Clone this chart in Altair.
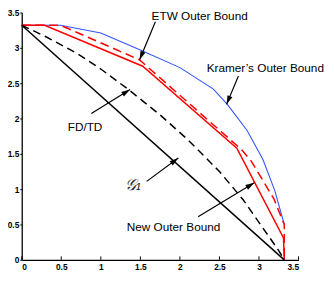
import altair as alt
import pandas as pd
import math

# ---- data ----
g1_x = [0, 3.32]
g1_y = [3.32, 0]
fdtd_x = [0, 0.3, 0.7, 1.0, 1.35, 1.75, 2.1, 2.5, 2.8, 3.05, 3.25, 3.32]
fdtd_y = [3.32, 3.16, 2.92, 2.70, 2.41, 2.05, 1.70, 1.25, 0.85, 0.45, 0.13, 0]
new_x = [0, 0.29, 1.53, 2.72, 3.31, 3.32]
new_y = [3.32, 3.32, 2.74, 1.58, 0.31, 0]
etw_x = [0, 0.49, 1.49, 2.78, 2.9, 3.19, 3.32, 3.32]
etw_y = [3.32, 3.32, 2.83, 1.56, 1.40, 0.86, 0.5, 0]
kramer_x = [0, 0.49, 1.0, 1.5, 2.0, 2.42, 2.6, 2.85, 3.05, 3.2, 3.32]
kramer_y = [3.32, 3.32, 3.21, 2.97, 2.72, 2.42, 2.2, 1.83, 1.42, 0.98, 0.5]

x_ticks = [0, 0.5, 1, 1.5, 2, 2.5, 3, 3.5]
y_ticks = [0, 0.5, 1, 1.5, 2, 2.5, 3, 3.5]

label_text = ["ETW Outer Bound", "Kramer\u2019s Outer Bound", "FD/TD", "New Outer Bound"]
label_x = [2.25, 3.08, 0.80, 1.92]
label_y = [3.45, 2.71, 1.88, 0.47]
g1_label = "\U0001D4A2\u2081"
g1_label_x = [1.41]
g1_label_y = [1.06]

arrow_tail_x = [1.69, 2.74, 0.88, 1.58, 2.23]
arrow_tail_y = [3.37, 2.60, 2.07, 1.11, 0.61]
arrow_tip_x = [1.49, 2.59, 1.37, 1.98, 2.94]
arrow_tip_y = [2.83, 2.20, 2.41, 1.44, 1.09]

W, H = 282, 252
DOM = [0, 3.5]
sx = W / 3.5
sy = H / 3.5

FONT = "Liberation Sans"

def xenc(field="x"):
    return alt.X(f"{field}:Q", scale=alt.Scale(domain=DOM, nice=False, zero=False),
                 axis=alt.Axis(values=x_ticks, format="~g", title=None, grid=False,
                               tickSize=0, labelPadding=3))

def yenc(field="y"):
    return alt.Y(f"{field}:Q", scale=alt.Scale(domain=DOM, nice=False, zero=False),
                 axis=alt.Axis(values=y_ticks, format="~g", title=None, grid=False,
                               tickSize=2, labelPadding=1))

def series(xs, ys, color, width, dash=None):
    df = pd.DataFrame({"x": xs, "y": ys, "i": list(range(len(xs)))})
    kw = dict(color=color, strokeWidth=width, clip=False)
    if dash:
        kw["strokeDash"] = dash
    return alt.Chart(df).mark_line(**kw).encode(x=xenc(), y=yenc(), order="i:Q")

layers = [
    series(kramer_x, kramer_y, "#3355ff", 1.1),
    series(etw_x, etw_y, "#ff0000", 1.5, [9, 5]),
    series(new_x, new_y, "#ff0000", 1.5),
    series(fdtd_x, fdtd_y, "black", 1.5, [8, 5]),
    series(g1_x, g1_y, "black", 1.5),
]

# inward x ticks
tick_df = pd.DataFrame({"t": x_ticks})
layers.append(alt.Chart(tick_df).mark_rule(color="black", strokeWidth=1).encode(
    x=xenc("t"), y=alt.value(H), y2=alt.value(H - 3.5)))

# arrows
angles = []
for tx, ty, hx, hy in zip(arrow_tail_x, arrow_tail_y, arrow_tip_x, arrow_tip_y):
    dxp = (hx - tx) * sx
    dyp = -(hy - ty) * sy
    angles.append(math.degrees(math.atan2(dxp, -dyp)) % 360)
arr_df = pd.DataFrame({"x": arrow_tail_x, "y": arrow_tail_y,
                       "x2": arrow_tip_x, "y2": arrow_tip_y, "a": angles})
layers.append(alt.Chart(arr_df).mark_rule(color="black", strokeWidth=1.2).encode(
    x=xenc(), y=yenc(), x2="x2:Q", y2="y2:Q"))
layers.append(alt.Chart(arr_df).mark_point(
    shape="M0,0L-0.6,2L0.6,2Z", filled=True, color="black", opacity=1, size=81, strokeWidth=0
).encode(x=xenc("x2"), y=yenc("y2"), angle=alt.Angle("a:Q", scale=None)))

# labels
lab_df = pd.DataFrame({"x": label_x, "y": label_y, "t": label_text})
layers.append(alt.Chart(lab_df).mark_text(font=FONT, fontSize=12, color="black",
                                          align="center", baseline="middle").encode(
    x=xenc(), y=yenc(), text="t:N"))
g1_df = pd.DataFrame({"x": g1_label_x, "y": g1_label_y, "t": [g1_label]})
layers.append(alt.Chart(g1_df).mark_text(font="DejaVu Serif", fontSize=16, fontStyle="italic",
                                         color="#222222", align="center", baseline="middle").encode(
    x=xenc(), y=yenc(), text="t:N"))

chart = alt.layer(*layers).properties(
    width=W, height=H,
    autosize=alt.AutoSizeParams(type="none"),
    padding={"left": 14, "top": 2, "right": 28, "bottom": 20},
).configure_view(stroke=None).configure_axis(
    labelFont=FONT, labelFontWeight="bold", labelFontSize=8.5, labelColor="black",
    domainColor="black", domainWidth=1.3, tickColor="black", tickWidth=1,
)

chart.save("out.html", embed_options={"renderer": "svg", "actions": False})
